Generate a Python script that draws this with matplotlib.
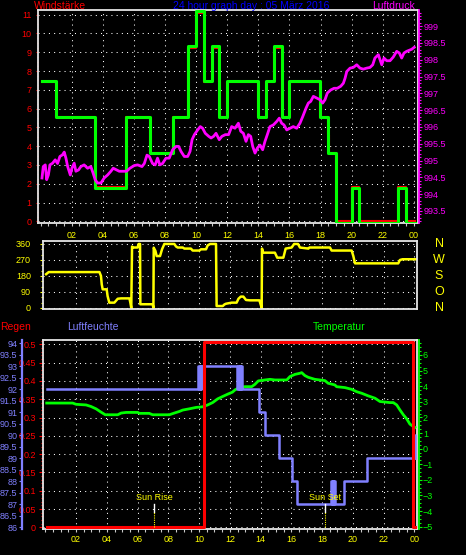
import numpy as np
import matplotlib
matplotlib.use('Agg')
from matplotlib import pyplot as plt
from matplotlib.ticker import MultipleLocator, FormatStrFormatter

# ---------------- data ----------------
hour_ticks = [2, 4, 6, 8, 10, 12, 14, 16, 18, 20, 22, 24]
hour_labels = ['02', '04', '06', '08', '10', '12', '14', '16', '18', '20', '22', '00']

# wind, step series (hours, value)
wind_t = [0.09, 0.99, 3.50, 5.49, 7.04, 8.49, 9.48, 9.99, 10.49, 11.02, 11.45, 11.99, 13.96,
          14.50, 14.99, 15.50, 15.98, 17.97, 18.46, 18.98, 20.00, 20.48, 22.96, 23.48, 24.08]
wind_gust = [7.49, 5.57, 1.77, 5.57, 3.65, 5.57, 9.33, 11.2, 7.49, 9.33, 5.57, 7.49, 5.57,
             7.49, 9.33, 5.57, 7.49, 5.57, 3.65, -0.1, 1.77, -0.1, 1.77, -0.1, -0.1]
wind_mean_t = [0.09, 0.99, 3.50, 5.49, 7.04, 8.49, 9.48, 9.99, 10.49, 11.02, 11.45, 11.56, 11.99,
               13.96, 14.50, 14.99, 15.50, 15.98, 17.97, 18.46, 18.57, 18.98, 20.00, 20.48, 20.54,
               22.96, 23.48, 24.08]
wind_mean = [7.40, 5.57, 1.85, 5.57, 3.65, 5.57, 9.22, 11.07, 7.40, 9.22, 7.40, 5.57, 7.40,
             5.57, 7.40, 9.22, 5.57, 7.40, 5.57, 4.60, 3.65, 0.0, 1.85, 0.90, 0.0,
             1.85, 0.0, 0.0]

press_t = [0.09, 0.17, 0.30, 0.39, 0.50, 0.60, 0.77, 0.94, 1.09, 1.24,
           1.41, 1.52, 1.63, 1.74, 1.91, 2.01, 2.16, 2.27, 2.44, 2.59,
           2.80, 3.02, 3.23, 3.38, 3.51, 3.66, 3.88, 4.09, 4.31, 4.52,
           4.67, 4.89, 5.06, 5.31, 5.53, 5.74, 6.02, 6.24, 6.52, 6.67,
           6.84, 6.99, 7.20, 7.37, 7.52, 7.67, 7.84, 8.06, 8.27, 8.49,
           8.71, 8.88, 9.03, 9.24, 9.46, 9.61, 9.74, 9.89, 10.10, 10.27,
           10.42, 10.59, 10.81, 10.96, 11.13, 11.28, 11.49, 11.66, 11.88, 12.09,
           12.29, 12.50, 12.72, 12.87, 13.04, 13.21, 13.36, 13.51, 13.64, 13.79,
           13.94, 14.11, 14.28, 14.43, 14.58, 14.75, 14.97, 15.18, 15.35, 15.50,
           15.65, 15.83, 16.04, 16.25, 16.47, 16.68, 16.86, 17.07, 17.22, 17.37,
           17.54, 17.76, 17.97, 18.14, 18.29, 18.44, 18.66, 18.87, 19.08, 19.30,
           19.47, 19.58, 19.69, 19.90, 20.11, 20.33, 20.54, 20.75, 20.97, 21.18,
           21.36, 21.50, 21.72, 21.94, 22.08, 22.26, 22.47, 22.68, 22.90, 23.07,
           23.22, 23.37, 23.54, 23.71, 23.86, 24.03]
press = [994.48, 994.82, 994.87, 994.43, 994.57, 994.87, 994.92, 995.02, 994.91, 995.12,
         995.17, 995.25, 995.07, 994.82, 994.57, 994.77, 994.92, 994.68, 994.72, 994.82,
         994.87, 994.77, 994.82, 994.62, 994.43, 994.33, 994.33, 994.48, 994.57, 994.68,
         994.77, 994.72, 994.68, 994.68, 994.68, 994.77, 994.85, 994.87, 994.82, 994.91,
         995.16, 995.12, 994.91, 994.87, 995.07, 994.87, 994.91, 995.07, 995.07, 995.32,
         995.42, 995.42, 995.27, 995.12, 995.12, 995.27, 995.62, 995.77, 995.91, 996.01,
         995.96, 995.81, 995.72, 995.67, 995.72, 995.81, 995.62, 995.72, 995.77, 995.77,
         996.01, 995.96, 996.11, 995.87, 995.81, 995.57, 995.77, 995.72, 995.42, 995.22,
         995.37, 995.46, 995.32, 995.57, 995.77, 996.01, 996.06, 996.16, 996.26, 996.11,
         996.06, 995.91, 995.96, 996.01, 995.96, 996.11, 996.31, 996.56, 996.71, 996.76,
         996.91, 996.86, 996.81, 996.71, 996.81, 997.01, 997.10, 997.15, 997.15, 997.21,
         997.30, 997.45, 997.65, 997.75, 997.77, 997.85, 997.75, 997.72, 997.75, 997.77,
         997.85, 998.05, 998.15, 997.85, 998.05, 997.97, 997.97, 998.08, 998.25, 998.20,
         998.05, 998.20, 998.25, 998.28, 998.31, 998.37]

dir_t = [0.05, 0.22, 3.52, 3.62, 3.67, 3.73, 3.99, 4.05, 4.16, 4.49,
         4.71, 4.92, 5.47, 5.53, 5.59, 5.64, 5.72, 6.00, 6.07, 6.16,
         6.18, 6.98, 7.03, 7.05, 7.16, 7.24, 7.46, 7.59, 7.74, 8.39,
         8.50, 8.61, 8.94, 9.04, 9.47, 9.58, 10.02, 10.12, 10.45, 10.56,
         10.72, 11.10, 11.14, 11.54, 11.65, 11.75, 12.12, 12.44, 12.56, 12.71,
         12.88, 13.05, 13.31, 13.92, 14.00, 14.07, 14.09, 14.17, 14.93, 15.08,
         15.48, 15.63, 16.02, 16.18, 16.43, 16.56, 17.11, 17.17, 18.51, 18.62,
         19.92, 20.03, 20.14, 22.95, 23.06, 23.23, 24.10]
dir_v = [190, 202, 202, 180, 133, 105, 105, 67, 30, 30,
         52, 54, 54, 30, 0, 345, 340, 340, 360, 360,
         21, 21, 0, 339, 321, 292, 292, 330, 360, 360,
         346, 340, 340, 334, 334, 323, 323, 330, 330, 352,
         360, 360, 11, 11, 20, 24, 30, 30, 52, 64,
         64, 45, 43, 43, 21, 0, 334, 311, 311, 283,
         283, 334, 340, 360, 360, 340, 334, 340, 340, 323,
         323, 292, 251, 251, 270, 274, 274]
compass = ['N', 'W', 'S', 'O', 'N']
compass_deg = [360, 270, 180, 90, 0]

rain_t = [0.09, 10.30, 23.89, 24.04]
rain_v = [0.0, 0.505, 0.0, 0.0]

hum_t = [0.09, 9.95, 10.00, 10.05, 10.10, 10.15, 10.20, 12.48, 12.53, 12.58, 12.63, 12.68,
         12.73, 12.78, 12.83, 13.90, 14.28, 15.20, 16.02, 16.39, 18.58, 18.63, 18.68, 18.73,
         18.78, 18.84, 19.42, 20.90, 23.97, 24.02, 24.04]
hum_v = [92, 93, 92, 93, 92, 93, 93, 92, 93, 92, 93, 92,
         93, 92, 92, 91, 90, 89, 88, 87, 88, 87, 88, 87,
         88, 87, 88, 89, 90, 89, 89]

temp_t = [0.09, 1.78, 2.00, 2.65, 2.97, 3.30, 3.62, 3.90, 4.71, 4.93,
          5.26, 6.01, 6.12, 6.76, 6.98, 8.06, 8.39, 8.71, 8.93, 9.36,
          9.80, 10.23, 10.56, 10.88, 11.21, 11.53, 11.86, 12.17, 12.33, 12.65,
          12.98, 13.42, 13.63, 13.85, 14.28, 14.61, 14.93, 15.70, 15.91, 16.24,
          16.56, 16.67, 16.88, 17.10, 17.53, 18.18, 18.39, 18.83, 18.94, 19.49,
          19.92, 20.24, 20.57, 21.00, 21.44, 21.76, 22.41, 22.63, 22.85, 23.06,
          23.28, 23.50, 23.71, 23.93, 24.04]
temp_v = [2.92, 2.92, 2.84, 2.80, 2.70, 2.55, 2.34, 2.17, 2.17, 2.28,
          2.32, 2.32, 2.26, 2.26, 2.17, 2.17, 2.28, 2.38, 2.47, 2.55,
          2.64, 2.68, 2.80, 2.95, 3.19, 3.34, 3.49, 3.62, 3.76, 3.93,
          3.97, 3.97, 4.12, 4.34, 4.40, 4.44, 4.40, 4.40, 4.62, 4.76,
          4.83, 4.87, 4.68, 4.57, 4.44, 4.36, 4.19, 4.08, 3.97, 3.91,
          3.80, 3.65, 3.55, 3.38, 3.23, 3.02, 2.95, 2.95, 2.80, 2.48,
          2.17, 1.91, 1.57, 1.42, 1.36]

sun_events = [7.09, 18.20]
sun_names = ['Sun Rise', 'Sun Set']

# ---------------- styling ----------------
W, H = 466, 555
RED = '#ff0000'
GREEN = '#00ff00'
MAG = '#ff00ff'
YEL = '#ffff00'
LAV = '#8080ff'
BLUE = '#0000ff'
FRAME = '#e6e6e6'
TICK = '#c8c8c8'
FS = 6.5
DOTS = (0, (1, 4))

plt.rcParams['font.family'] = ['Liberation Sans', 'DejaVu Sans']

fig = plt.figure(figsize=(W / 100, H / 100), dpi=100, facecolor='black')


def rect(x0, y0, x1, y1):
    return [x0 / W, 1 - y1 / H, (x1 - x0) / W, (y1 - y0) / H]


def px(x, y):
    return x / W, 1 - y / H


def style_frame(ax):
    ax.set_facecolor('black')
    for s in ax.spines.values():
        s.set_color(FRAME)
        s.set_linewidth(1.3)


def hour_axis(ax, pad):
    ax.set_xticks(hour_ticks, hour_labels)
    ax.xaxis.set_minor_locator(MultipleLocator(0.5))
    ax.tick_params(axis='x', which='both', colors=TICK, length=2.5, width=0.8,
                   labelcolor=YEL, labelsize=FS, pad=pad)


def only_spine(ax, side, color, offset):
    for k, s in ax.spines.items():
        s.set_visible(k == side)
    ax.spines[side].set_color(color)
    ax.spines[side].set_linewidth(1.3)
    ax.spines[side].set_position(offset)


# ---------------- top: wind + pressure ----------------
ax1 = fig.add_axes(rect(38, 10, 418, 223))
style_frame(ax1)
ax1.set_xlim(-0.167, 24.27)
ax1.set_ylim(-0.09, 11.25)
ax1.step(wind_mean_t, wind_mean, where='post', color=RED, lw=1.5, zorder=3)
ax1.step(wind_t, wind_gust, where='post', color=GREEN, lw=2.2, zorder=4)
ax1.set_yticks(range(0, 12))
ax1.yaxis.set_minor_locator(MultipleLocator(0.25))
ax1.tick_params(axis='y', which='major', colors=RED, length=1.5, width=0.8, labelsize=FS, pad=3)
ax1.tick_params(axis='y', which='minor', colors=RED, length=1.0, width=0.8)
hour_axis(ax1, pad=3)
ax1.grid(True, which='major', color='white', linestyle=DOTS, linewidth=0.75)

ax1p = ax1.twinx()
ax1p.set_ylim(993.14, 999.48)
ax1p.plot(press_t, press, color=MAG, lw=2.0)
only_spine(ax1p, 'right', MAG, ('outward', 1))
ax1p.set_yticks(np.arange(993.5, 999.01, 0.5))
ax1p.yaxis.set_major_formatter(FormatStrFormatter('%g'))
ax1p.yaxis.set_minor_locator(MultipleLocator(0.1))
ax1p.tick_params(axis='y', which='major', colors=MAG, length=2.2, width=0.8, labelsize=FS, pad=0.8)
ax1p.tick_params(axis='y', which='minor', colors=MAG, length=1.2, width=0.8)

# ---------------- middle: wind direction ----------------
ax2 = fig.add_axes(rect(42.7, 241.3, 417.3, 308.7))
style_frame(ax2)
ax2.set_xlim(-0.17, 24.19)
ax2.set_ylim(-4, 375)
ax2.plot(dir_t, dir_v, color=YEL, lw=1.8)
ax2.set_xticks(hour_ticks)
ax2.tick_params(axis='x', length=0, labelbottom=False)
ax2.set_yticks(range(0, 361, 90))
ax2.yaxis.set_minor_locator(MultipleLocator(30))
ax2.tick_params(axis='y', which='major', colors=YEL, length=2.2, width=0.8, labelsize=FS, pad=6.3)
ax2.tick_params(axis='y', which='minor', colors=YEL, length=1.2, width=0.8)
ax2.grid(True, which='major', color='white', linestyle=DOTS, linewidth=0.75)
for d, c in zip(compass_deg, compass):
    ax2.text(1.058, d, c, transform=ax2.get_yaxis_transform(), color=YEL,
             fontsize=9, ha='center', va='center')

# ---------------- bottom: rain, humidity, temperature ----------------
ax3 = fig.add_axes(rect(42.7, 339.7, 417, 529))
style_frame(ax3)
ax3.set_xlim(-0.17, 24.17)
ax3.set_ylim(-0.0046, 0.5126)
ax3.set_yticks(np.arange(0, 0.501, 0.05))
ax3.yaxis.set_major_formatter(FormatStrFormatter('%g'))
ax3.yaxis.set_minor_locator(MultipleLocator(0.01))
ax3.tick_params(axis='y', which='major', colors=RED, length=2.7, width=0.8, labelsize=FS, pad=2.2)
ax3.tick_params(axis='y', which='minor', colors=RED, length=1.2, width=0.8)
hour_axis(ax3, pad=2)
ax3.grid(True, which='major', color='white', linestyle=DOTS, linewidth=0.75)
ax3.set_zorder(0)

ax3t = ax3.twinx()
ax3t.set_zorder(1)
ax3t.set_ylim(-5.15, 6.98)
ax3t.plot(temp_t, temp_v, color=GREEN, lw=2.0)
only_spine(ax3t, 'right', GREEN, ('outward', 1.4))
ax3t.set_yticks(range(-5, 7))
ax3t.yaxis.set_minor_locator(MultipleLocator(0.25))
ax3t.tick_params(axis='y', which='major', colors=GREEN, length=2.2, width=0.8, labelsize=FS, pad=0.6)
ax3t.tick_params(axis='y', which='minor', colors=GREEN, length=1.2, width=0.8)

ax3h = ax3.twinx()
ax3h.set_zorder(2)
ax3h.set_ylim(85.93, 94.16)
ax3h.step(hum_t, hum_v, where='post', color=LAV, lw=1.8)
ax3h.yaxis.tick_left()
only_spine(ax3h, 'left', LAV, ('axes', -0.0553))
ax3h.spines['left'].set_linewidth(1.6)
ax3h.set_yticks(np.arange(86, 94.01, 0.5))
ax3h.yaxis.set_major_formatter(FormatStrFormatter('%g'))
ax3h.yaxis.set_minor_locator(MultipleLocator(0.1))
ax3h.tick_params(axis='y', which='major', colors=LAV, length=2.2, width=0.8, labelsize=FS, pad=1.2)
ax3h.tick_params(axis='y', which='minor', colors=LAV, length=1.0, width=0.8)

ax3r = fig.add_axes(ax3.get_position(), sharex=ax3, sharey=ax3)
ax3r.set_zorder(3)
ax3r.axis('off')
ax3r.patch.set_visible(False)
ax3r.step(rain_t, rain_v, where='post', color=RED, lw=2.2)
for t, name in zip(sun_events, sun_names):
    ax3r.axvline(t, 0.091, 0.130, color='white', lw=1.0)
    ax3r.axvline(t, 0.009, 0.091, color=YEL, lw=0.8, linestyle=(0, (1, 1)))
    ax3r.text(t, 0.165, name, transform=ax3r.get_xaxis_transform(), color=YEL,
              fontsize=FS, ha='center', va='center')

# ---------------- titles ----------------
TS = 7.5
fig.text(*px(34, 6), 'Windstärke', color=RED, fontsize=TS, ha='left', va='center')
fig.text(*px(251.5, 6), '24 hour graph day : 05 März 2016', color=BLUE, fontsize=TS,
         ha='center', va='center')
fig.text(*px(415, 6), 'Luftdruck', color=MAG, fontsize=TS, ha='right', va='center')
fig.text(*px(0, 327), 'Regen', color=RED, fontsize=TS, ha='left', va='center')
fig.text(*px(66.7, 327), 'Luftfeuchte', color=LAV, fontsize=TS, ha='left', va='center')
fig.text(*px(313, 327), 'Temperatur', color=GREEN, fontsize=TS, ha='left', va='center')

fig.savefig('out.png', dpi=100, facecolor='black')
